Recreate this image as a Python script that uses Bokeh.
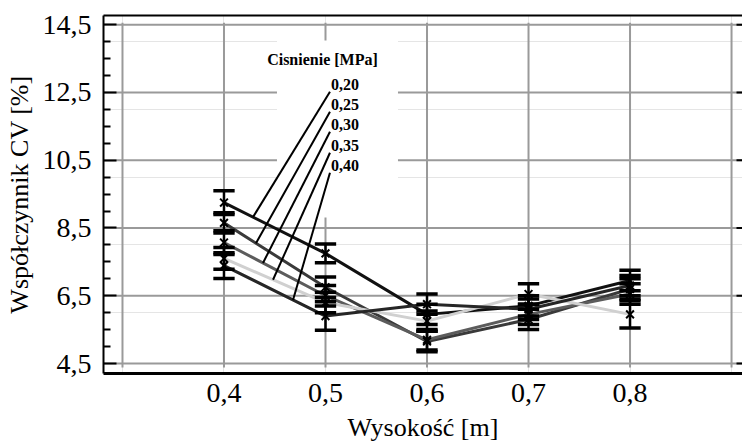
import numpy as np
from bokeh.plotting import figure
from bokeh.models import LinearAxis, FixedTicker, Range1d
from bokeh.core.properties import value
from bokeh.embed import file_html
from bokeh.resources import INLINE

# ---- data ----
heights = [0.4, 0.5, 0.6, 0.7, 0.8]
pressures = ["0,20", "0,25", "0,30", "0,35", "0,40"]
cv_020 = [9.25, 7.75, 5.95, 6.20, 6.95]
cv_025 = [8.65, 6.75, 5.15, 5.80, 6.70]
cv_030 = [8.07, 6.50, 5.20, 5.95, 6.55]
cv_035 = [7.60, 6.30, 5.75, 6.55, 5.95]
cv_040 = [7.39, 5.90, 6.25, 6.10, 6.80]
err_020 = [0.35, 0.28, 0.30, 0.30, 0.30]
err_025 = [0.30, 0.30, 0.30, 0.30, 0.30]
err_030 = [0.35, 0.30, 0.30, 0.30, 0.30]
err_035 = [0.32, 0.30, 0.30, 0.30, 0.40]
err_040 = [0.38, 0.42, 0.30, 0.30, 0.30]

y_ticks = [4.5, 6.5, 8.5, 10.5, 12.5, 14.5]
y_tick_labels = ["4,5", "6,5", "8,5", "10,5", "12,5", "14,5"]
x_ticks = [0.4, 0.5, 0.6, 0.7, 0.8]
x_tick_labels = ["0,4", "0,5", "0,6", "0,7", "0,8"]
grid_x = [0.3, 0.4, 0.5, 0.6, 0.7, 0.8, 0.9]

series = [cv_020, cv_025, cv_030, cv_035, cv_040]
errors = [err_020, err_025, err_030, err_035, err_040]
colors = ["#111111", "#3a3a3a", "#5c5c5c", "#d0d0d0", "#262626"]

X0, X1 = 0.2813, 0.9108
Y0, Y1 = 4.205, 14.77
PXU = 1015.0  # px per x unit (approx)

p = figure(width=742, height=444, x_range=Range1d(X0, X1), y_range=Range1d(Y0, Y1),
           output_backend="svg", toolbar_location=None,
           x_axis_location=None, y_axis_location=None,
           min_border_left=103, min_border_right=0, min_border_top=15, min_border_bottom=71)
p.outline_line_color = None
p.background_fill_color = "white"
p.border_fill_color = "white"

FONT = "Liberation Serif"

minor = []
for a in y_ticks[:-1]:
    minor += [a + 0.5, a + 1.0, a + 1.5]

yax = LinearAxis(ticker=FixedTicker(ticks=y_ticks, minor_ticks=minor),
                 major_label_overrides={t: l for t, l in zip(y_ticks, y_tick_labels)},
                 axis_label="Współczynnik CV [%]")
yax.axis_line_width = 2
yax.axis_line_color = "black"
yax.major_tick_in = 13
yax.major_tick_out = 0
yax.minor_tick_in = 7
yax.minor_tick_out = 0
yax.major_tick_line_width = 2
yax.minor_tick_line_width = 2
yax.major_label_text_font = FONT
yax.major_label_text_font_size = "28px"
yax.major_label_text_color = "black"
yax.major_label_standoff = 12
yax.axis_label_text_font = FONT
yax.axis_label_text_font_size = "26px"
yax.axis_label_text_font_style = "normal"
yax.axis_label_text_color = "black"
yax.axis_label_standoff = 6
p.add_layout(yax, "left")

xax = LinearAxis(ticker=FixedTicker(ticks=x_ticks, minor_ticks=[]),
                 major_label_overrides={t: l for t, l in zip(x_ticks, x_tick_labels)},
                 axis_label="Wysokość [m]")
xax.axis_line_width = 3
xax.axis_line_color = "black"
xax.major_tick_in = 0
xax.major_tick_out = 0
xax.minor_tick_in = 0
xax.minor_tick_out = 0
xax.major_label_text_font = FONT
xax.major_label_text_font_size = "28px"
xax.major_label_text_color = "black"
xax.major_label_standoff = 10
xax.axis_label_text_font = FONT
xax.axis_label_text_font_size = "26px"
xax.axis_label_text_font_style = "normal"
xax.axis_label_text_color = "black"
xax.axis_label_standoff = 8
p.add_layout(xax, "below")

tax = LinearAxis(ticker=FixedTicker(ticks=[], minor_ticks=[]))
tax.axis_line_width = 2
tax.axis_line_color = "black"
tax.major_tick_in = 0
tax.major_tick_out = 0
tax.minor_tick_in = 0
tax.minor_tick_out = 0
tax.major_label_text_font_size = "0px"
tax.major_label_standoff = 0
p.add_layout(tax, "above")

# grid
gy0 = 4.5 - 4 / 33.9
gy1 = 14.5 + 2 / 33.9
p.segment(x0=grid_x, y0=[gy0] * len(grid_x), x1=grid_x, y1=[gy1] * len(grid_x),
          line_color="#9a9a9a", line_width=2)
p.segment(x0=[X0] * len(y_ticks), y0=y_ticks, x1=[X1] * len(y_ticks), y1=y_ticks,
          line_color="#9a9a9a", line_width=2)
# right-edge tick stubs
p.segment(x0=[X1 - 6 / PXU] * len(y_ticks), y0=y_ticks, x1=[X1] * len(y_ticks), y1=y_ticks,
          line_color="black", line_width=2)

# white annotation box
p.quad(left=[0.4522], right=[0.5714], bottom=[8.81], top=[14.03],
       fill_color="white", line_color=None)

# series lines
for vals, col in zip(series, colors):
    p.line(heights, vals, line_color=col, line_width=3)

# error bars
h = np.array(heights)
capw = 0.0105
for vals, errs in zip(series, errors):
    v = np.array(vals)
    e = np.array(errs)
    lo, hi = v - e, v + e
    p.segment(x0=h, y0=lo, x1=h, y1=hi, line_color="black", line_width=2.5)
    p.segment(x0=h - capw, y0=hi, x1=h + capw, y1=hi, line_color="black", line_width=3.5)
    p.segment(x0=h - capw, y0=lo, x1=h + capw, y1=lo, line_color="black", line_width=3.5)

for vals in series:
    p.scatter(heights, vals, marker="x", size=11, line_color="black", line_width=2)

# annotation: title, labels and leader lines
label_x = 0.5054
label_y = [12.73, 12.14, 11.55, 10.93, 10.34]
anchor_x = [0.4286, 0.4315, 0.4384, 0.4483, 0.468]
anchor_y = [float(np.interp(ax, heights, vals)) for ax, vals in zip(anchor_x, series)]
top_x = [label_x - 0.001] * 5
top_y = [ly - 0.21 for ly in label_y]
p.segment(x0=anchor_x, y0=anchor_y, x1=top_x, y1=top_y, line_color="black", line_width=2)

p.text(x=[0.4970], y=[13.47], text=["Cisnienie [MPa]"], text_font=value(FONT),
       text_font_style="bold", text_font_size="16px", text_align="center",
       text_baseline="middle", text_color="black")
p.text(x=[label_x] * 5, y=label_y, text=pressures, text_font=value(FONT),
       text_font_style="bold", text_font_size="16px", text_align="left",
       text_baseline="middle", text_color="black")

open("out.html", "w").write(file_html(p, INLINE))
